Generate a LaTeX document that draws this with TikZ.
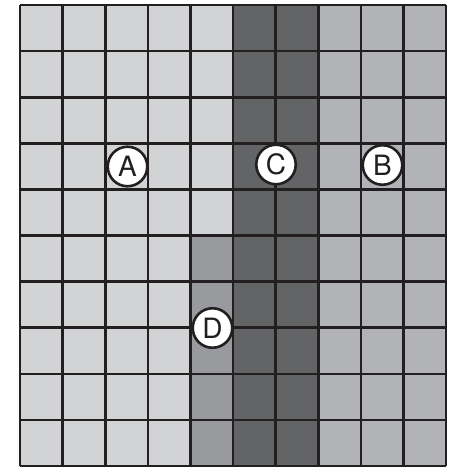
\documentclass[tikz,border=0pt]{standalone}
\usepackage{fontspec}
\setmainfont{TeX Gyre Heros}
\definecolor{cA}{RGB}{209,211,212}
\definecolor{cB}{RGB}{177,179,182}
\definecolor{cC}{RGB}{99,100,102}
\definecolor{cD}{RGB}{152,154,157}
\definecolor{gline}{RGB}{35,31,32}
\tikzset{
  lab/.style={circle, draw=gline, line width=2.6pt, fill=white, minimum size=39.5pt, inner sep=0pt, font=\fontsize{28}{28}\selectfont, text=gline},
}
\begin{document}
\begin{tikzpicture}[x=1pt,y=-1pt]
\useasboundingbox (0,0) rectangle (453,467);
% regions
\fill[cA] (20,5) rectangle (233.0,466);
\fill[cD] (190.4,235.5) rectangle (233.0,466);
\fill[cC] (233.0,5) rectangle (318.2,466);
\fill[cB] (318.2,5) rectangle (446,466);
% grid
\foreach \i in {0,...,10} {
  \draw[gline, line width=2.6pt] ({20+\i*42.6},5) -- ({20+\i*42.6},466);
  \draw[gline, line width=2.6pt] (20,{5+\i*46.1}) -- (446,{5+\i*46.1});
}
% labels
\node[lab] (A) at (127.5,166.5) {A};
\node[lab] (C) at (276,164.5) {C};
\node[lab] (B) at (382.5,165) {B};
\node[lab] (D) at (212.5,328) {D};
\end{tikzpicture}
\end{document}
